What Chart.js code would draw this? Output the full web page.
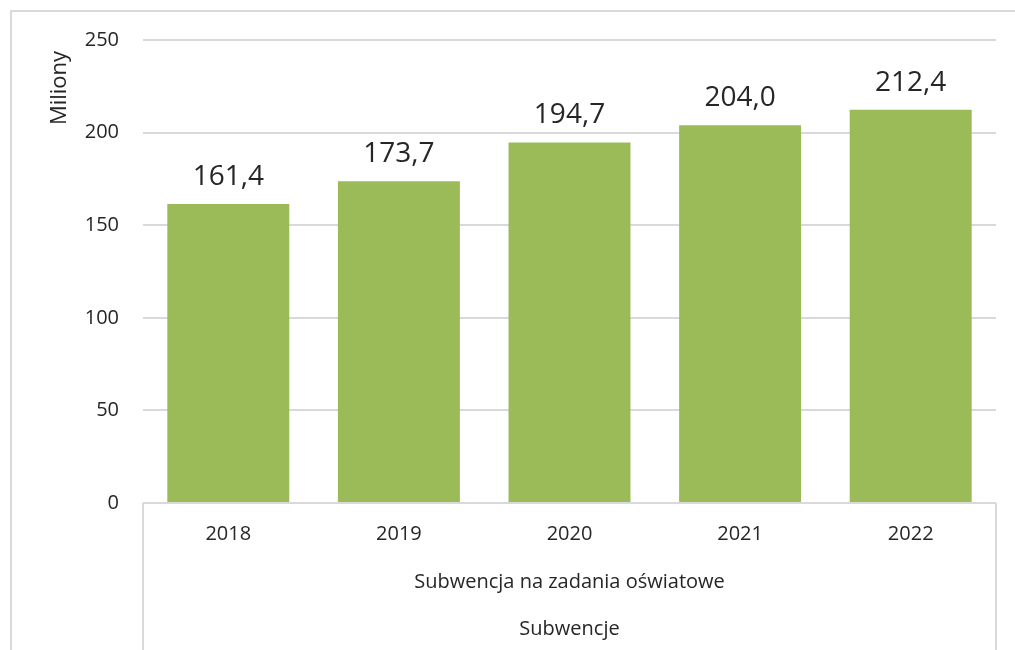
<!DOCTYPE html>
<html>
<head>
<meta charset="utf-8">
<script src="https://cdn.jsdelivr.net/npm/chart.js@4/dist/chart.umd.min.js"></script>
<style>
  html, body { margin: 0; padding: 0; background: #fff; }
  #wrap { width: 1015px; height: 650px; }
</style>
</head>
<body>
<div id="wrap"><canvas id="chart" width="1015" height="650"></canvas></div>
<script>
// data
const years = ['2018', '2019', '2020', '2021', '2022'];
const values = [161.4, 173.7, 194.7, 204.0, 212.4];
const groupLabel = ['Subwencja na zadania oświatowe'];
const topLabel = ['Subwencje'];
const yTicks = [0, 50, 100, 150, 200, 250];
const yTitle = 'Miliony';

const FONT = '"Open Sans", "DejaVu Sans", sans-serif';
const TEXT = '#262626';
const GRID = '#d9d9d9';

// value labels above the bars, Polish decimal comma
const valueLabels = {
    id: 'valueLabels',
    afterDatasetsDraw(chart) {
        const ctx = chart.ctx;
        const meta = chart.getDatasetMeta(0);
        ctx.save();
        ctx.font = '28px ' + FONT;
        ctx.fillStyle = TEXT;
        ctx.textAlign = 'center';
        ctx.textBaseline = 'alphabetic';
        meta.data.forEach((bar, i) => {
            ctx.fillText(values[i].toFixed(1).replace('.', ','), bar.x, bar.y - 19);
        });
        ctx.restore();
    }
};

// axis title sits near the top of the value axis, like in Excel
const axisTitle = {
    id: 'axisTitle',
    afterDraw(chart) {
        const ctx = chart.ctx;
        const a = chart.chartArea;
        ctx.save();
        ctx.translate(a.left - 83, a.top + 48);
        ctx.rotate(-Math.PI / 2);
        ctx.font = '22px ' + FONT;
        ctx.fillStyle = TEXT;
        ctx.textAlign = 'center';
        ctx.textBaseline = 'middle';
        ctx.fillText(yTitle, 0, 0);
        ctx.restore();
    }
};

// outer frame and the vertical lines of the multi-level category axis
const frame = {
    id: 'frame',
    afterDraw(chart) {
        const ctx = chart.ctx;
        const a = chart.chartArea;
        ctx.save();
        ctx.strokeStyle = GRID;
        ctx.lineWidth = 2;
        ctx.beginPath();
        ctx.moveTo(11, chart.height + 5);
        ctx.lineTo(11, 11);
        ctx.lineTo(chart.width + 5, 11);
        ctx.stroke();
        ctx.beginPath();
        ctx.moveTo(a.left, a.bottom);
        ctx.lineTo(a.left, chart.height);
        ctx.moveTo(a.right, a.bottom);
        ctx.lineTo(a.right, chart.height);
        ctx.stroke();
        ctx.restore();
    }
};

new Chart(document.getElementById('chart'), {
    type: 'bar',
    data: {
        labels: years,
        datasets: [{
            data: values,
            backgroundColor: '#9bbb59',
            borderWidth: 0,
            categoryPercentage: 1,
            barPercentage: 0.715
        }]
    },
    options: {
        responsive: false,
        animation: false,
        layout: { padding: { left: 10, top: 40, right: 19, bottom: 0 } },
        plugins: { legend: { display: false }, tooltip: { enabled: false } },
        scales: {
            y: {
                min: 0, max: 250,
                afterBuildTicks: s => { s.ticks = yTicks.map(v => ({ value: v })); },
                grid: { color: GRID, lineWidth: 2, drawTicks: false },
                border: { display: false },
                ticks: { padding: 24, color: TEXT, font: { family: FONT, size: 20 } },
                afterFit: s => { s.width = 133; }
            },
            x: {
                grid: { display: false },
                border: { display: false },
                ticks: { padding: 11, color: TEXT, maxRotation: 0, font: { family: FONT, size: 20 } },
                afterFit: s => { s.height = 55; }
            },
            x2: {
                type: 'category',
                position: 'bottom',
                labels: groupLabel,
                offset: true,
                grid: { display: false },
                border: { display: false },
                ticks: { padding: 4, color: TEXT, font: { family: FONT, size: 20 } },
                afterFit: s => { s.height = 47; }
            },
            x3: {
                type: 'category',
                position: 'bottom',
                labels: topLabel,
                offset: true,
                grid: { display: false },
                border: { display: false },
                ticks: { padding: 4, color: TEXT, font: { family: FONT, size: 20 } },
                afterFit: s => { s.height = 45; }
            }
        }
    },
    plugins: [valueLabels, axisTitle, frame]
});
</script>
</body>
</html>
